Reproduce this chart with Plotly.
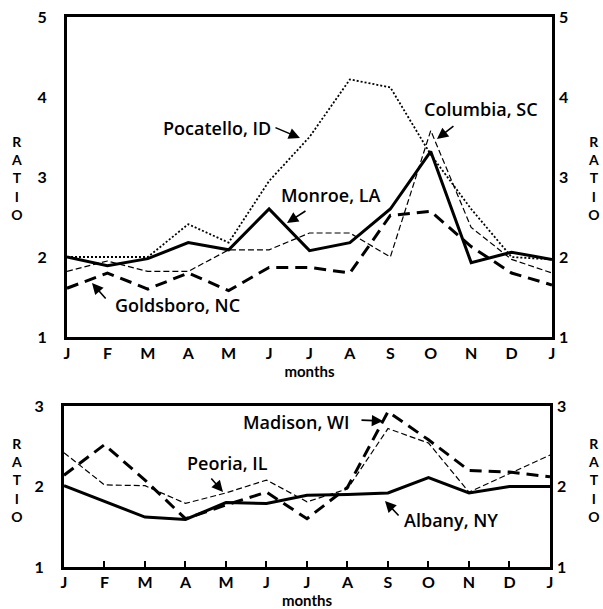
import plotly.graph_objects as go

months = ["J", "F", "M", "A", "M", "J", "J", "A", "S", "O", "N", "D", "J"]
xpos = list(range(13))

# upper panel
monroe = [2.0, 1.89, 1.98, 2.18, 2.09, 2.6, 2.08, 2.18, 2.6, 3.32, 1.93, 2.06, 1.97]
pocatello = [2.0, 2.0, 2.0, 2.41, 2.18, 2.95, 3.5, 4.22, 4.12, 3.28, 2.6, 2.0, 1.97]
columbia = [1.82, 1.95, 1.82, 1.82, 2.09, 2.09, 2.3, 2.3, 2.0, 3.58, 2.37, 1.97, 1.8]
goldsboro = [1.61, 1.8, 1.6, 1.8, 1.58, 1.87, 1.87, 1.8, 2.52, 2.57, 2.13, 1.8, 1.65]

# lower panel
albany = [2.01, 1.82, 1.62, 1.59, 1.8, 1.79, 1.89, 1.9, 1.92, 2.11, 1.92, 2.0, 2.0]
peoria = [2.42, 2.02, 2.01, 1.79, 1.92, 2.08, 1.81, 1.97, 2.72, 2.54, 1.93, 2.16, 2.39]
madison = [2.14, 2.52, 2.08, 1.6, 1.77, 1.93, 1.6, 1.99, 2.93, 2.58, 2.2, 2.18, 2.12]

top_ticks = [1, 2, 3, 4, 5]
bot_ticks = [1, 2, 3]

FONT = "Lato"
LFONT = "Open Sans"
fig = go.Figure()

def add(y, xa, ya, width, dash, visible=True):
    fig.add_trace(go.Scatter(x=xpos, y=y, xaxis=xa, yaxis=ya, mode="lines",
                             line=dict(color="black" if visible else "rgba(0,0,0,0)",
                                       width=width, dash=dash),
                             showlegend=False, hoverinfo="skip"))

add(pocatello, "x", "y", 1.8, "2px,2px")
add(columbia, "x", "y", 1.2, "6px,3px")
add(goldsboro, "x", "y", 3, "12px,7px")
add(monroe, "x", "y", 3, "solid")
add(monroe, "x", "y2", 1, "solid", visible=False)

add(peoria, "x2", "y3", 1.2, "6px,3px")
add(madison, "x2", "y3", 3, "12px,7px")
add(albany, "x2", "y3", 3, "solid")
add(albany, "x2", "y4", 1, "solid", visible=False)

tickfont = dict(family=FONT, size=16, color="black", weight="bold")
titlefont = dict(family=FONT, size=15, color="black", weight="bold")
axline = dict(showline=True, linewidth=3, linecolor="black", showgrid=False, zeroline=False)

fig.update_layout(
    width=603, height=609,
    margin=dict(l=0, r=0, t=0, b=0, autoexpand=False),
    paper_bgcolor="white", plot_bgcolor="white",
    xaxis=dict(domain=[0.1111, 0.9154], range=[0, 12], anchor="y",
               tickvals=xpos, ticktext=months, tickfont=tickfont, ticks="",
               mirror=True, title=dict(text="months", font=titlefont, standoff=3), **axline),
    yaxis=dict(domain=[0.4466, 0.9721], range=[1, 5], anchor="x",
               tickvals=top_ticks, tickfont=tickfont, ticks="", mirror=True,
               ticklabelstandoff=14, **axline),
    yaxis2=dict(overlaying="y", side="right", range=[1, 5], anchor="x",
                tickvals=top_ticks, tickfont=tickfont, ticks="", showgrid=False,
                zeroline=False, showline=False, ticklabelstandoff=6),
    xaxis2=dict(domain=[0.1061, 0.9121], range=[0, 12], anchor="y3",
                tickvals=xpos, ticktext=months, tickfont=tickfont, ticks="inside",
                ticklen=6, tickwidth=2, tickcolor="black", ticklabelstandoff=-1,
                mirror=True, title=dict(text="months", font=titlefont, standoff=3), **axline),
    yaxis3=dict(domain=[0.069, 0.3333], range=[1, 3], anchor="x2",
                tickvals=bot_ticks, tickfont=tickfont, ticks="", mirror=True,
                ticklabelstandoff=14, **axline),
    yaxis4=dict(overlaying="y3", side="right", range=[1, 3], anchor="x2",
                tickvals=bot_ticks, tickfont=tickfont, ticks="", showgrid=False,
                zeroline=False, showline=False, ticklabelstandoff=6),
)

lab_font = dict(family=LFONT, size=18, color="black", weight=600)

def tx(px):  # pixel -> top data x
    return (px - 67) / 40.42

def ty(py):
    return 1 + (337 - py) / 80.0

def bx(px):
    return (px - 64) / 40.5

def by(py):
    return 1 + (567 - py) / 80.5

# (text, center, tail, head, panel)
labels = [
    ("Pocatello, ID", (217, 128), (274, 127), (300, 138), "top"),
    ("Columbia, SC", (481, 109), (455, 125), (437, 139), "top"),
    ("Monroe, LA", (331, 195), (307, 210), (287, 223), "top"),
    ("Goldsboro, NC", (178, 305), (107, 300), (92, 283), "top"),
    ("Madison, WI", (297, 422), (360, 420), (383, 421), "bot"),
    ("Peoria, IL", (228, 463), (210, 477), (223, 492), "bot"),
    ("Albany, NY", (451, 520), (400, 517), (385, 501), "bot"),
]
for text, c, t, h, panel in labels:
    if panel == "top":
        fx, fy, xr, yr = tx, ty, "x", "y"
    else:
        fx, fy, xr, yr = bx, by, "x2", "y3"
    fig.add_annotation(x=fx(c[0]), y=fy(c[1]), xref=xr, yref=yr, text=text,
                       showarrow=False, font=lab_font)
    fig.add_annotation(x=fx(h[0]), y=fy(h[1]), xref=xr, yref=yr, text="",
                       showarrow=True, ax=t[0] - h[0], ay=t[1] - h[1],
                       arrowhead=2, arrowsize=1.4, arrowwidth=1.6, arrowcolor="black")

ratio_font = dict(family=FONT, size=14, color="black", weight="bold")
for (px, py) in [(17, 178), (594, 178), (17, 480), (594, 480)]:
    fig.add_annotation(x=px / 603, y=1 - py / 609, xref="paper", yref="paper",
                       text="R<br>A<br>T<br>I<br>O", showarrow=False,
                       font=ratio_font, xanchor="center", yanchor="middle")

fig.write_html("out.html", config={"displayModeBar": False},
               post_script="document.body.style.margin='0px';document.body.style.overflow='hidden';")
